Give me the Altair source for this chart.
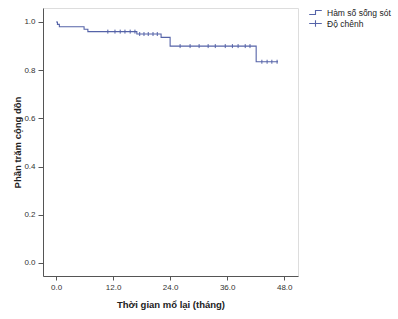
import altair as alt
import pandas as pd

# Kaplan-Meier step curve
step_times = [0.0, 0.3, 0.7, 5.9, 6.7, 17.0, 22.1, 24.0, 42.1, 46.7]
step_surv = [1.0, 0.99, 0.98, 0.97, 0.96, 0.95, 0.936, 0.90, 0.835, 0.835]

# censored observations
cens_times = [10.9, 12.4, 13.5, 14.5, 15.6, 16.6,
              17.6, 18.5, 19.4, 20.4, 21.3,
              26.1, 28.2, 30.1, 32.0, 33.5, 35.6, 37.1, 38.3, 39.8, 40.8,
              43.3, 44.4, 45.4, 46.5]
cens_surv = [0.96] * 6 + [0.95] * 5 + [0.90] * 10 + [0.835] * 4

x_ticks = [0, 12, 24, 36, 48]
y_ticks = [0.0, 0.2, 0.4, 0.6, 0.8, 1.0]
series_names = ["Hàm số sống sót", "Độ chênh"]

COL = "#5563a8"
FONT = "Liberation Sans"

line_df = pd.DataFrame({"t": step_times, "s": step_surv, "series": series_names[0]})
cens_df = pd.DataFrame({"t": cens_times, "s": cens_surv, "series": series_names[1]})

x_enc = alt.X("t:Q", scale=alt.Scale(domain=[-2.74, 50.9], nice=False, zero=False),
              axis=alt.Axis(values=x_ticks, format=".1f", title="Thời gian mổ lại (tháng)",
                            grid=False, tickSize=4, labelPadding=3, titlePadding=8,
                            domainColor="#555", tickColor="#555",
                            labelColor="#333", labelFontSize=8, labelFont=FONT,
                            titleFont=FONT, titleFontSize=9.5, titleFontWeight="bold",
                            titleColor="#222"))
y_enc = alt.Y("s:Q", scale=alt.Scale(domain=[-0.054, 1.058], nice=False, zero=False),
              axis=alt.Axis(values=y_ticks, format=".1f", title="Phần trăm cộng dồn",
                            grid=False, tickSize=5, labelPadding=3, titlePadding=1,
                            domainColor="#555", tickColor="#555",
                            labelColor="#333", labelFontSize=8, labelFont=FONT,
                            titleFont=FONT, titleFontSize=9.5, titleFontWeight="bold",
                            titleColor="#222"))

shape_scale = alt.Scale(domain=series_names,
                        range=["M-1.4,0.45 H0 V-0.45 H1.4", "M-1.4,0 H1.4 M0,-0.7 V0.7"])

line = alt.Chart(line_df).mark_line(interpolate="step-after", strokeWidth=1.1,
                                    color=COL).encode(x=x_enc, y=y_enc)

legend_layer = alt.Chart(cens_df).mark_point(filled=False, opacity=0, size=1, color=COL).encode(
    x=x_enc, y=y_enc,
    shape=alt.Shape("series:N", scale=shape_scale,
                    legend=alt.Legend(title=None, orient="none", legendX=265, legendY=-1,
                                      labelFont=FONT, labelFontSize=8.5, labelColor="#222",
                                      symbolSize=81, symbolStrokeWidth=1.1,
                                      symbolStrokeColor=COL, symbolFillColor="transparent",
                                      symbolOpacity=1,
                                      rowPadding=1, labelOffset=6, symbolOffset=2)),
)

tick_marks = alt.Chart(cens_df).mark_point(filled=False, strokeWidth=1, size=16,
                                           shape="M0,-1 V1", color=COL, opacity=1).encode(
    x=x_enc, y=y_enc)

chart = alt.layer(line, tick_marks, legend_layer).properties(
    width=255, height=268,
    autosize=alt.AutoSizeParams(type="none"),
    padding={"left": 43, "top": 8, "right": 100, "bottom": 43},
).configure_view(stroke="#555", strokeWidth=1).configure(background="white")

chart.save("out.html", embed_options={"renderer": "svg", "actions": False})
